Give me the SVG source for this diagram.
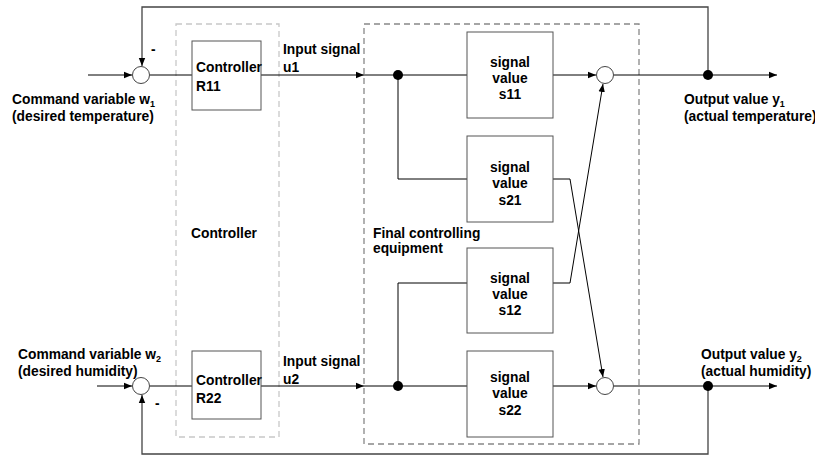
<svg xmlns="http://www.w3.org/2000/svg" width="815" height="455" viewBox="0 0 815 455">
<style>
text{font-family:"Liberation Sans",Arial,sans-serif;font-weight:bold;font-size:13.8px;fill:#000}
.c{text-anchor:middle}
.box{fill:#fff;stroke:#555;stroke-width:1}
.ln{fill:none;stroke:#000;stroke-width:1}
.fb{fill:none;stroke:#444;stroke-width:1.3}
.sum{fill:#fff;stroke:#444;stroke-width:1}
.dot{fill:#000}
.sub{font-size:9px}
</style>
<defs>
<marker id="ar" viewBox="0 0 10 10" refX="10" refY="5" markerWidth="8" markerHeight="8" markerUnits="userSpaceOnUse" orient="auto"><path d="M0,1 L10,5 L0,9 z" fill="#000"/></marker>
</defs>
<g id="group-controller"><rect x="176" y="24" width="103" height="413" fill="none" stroke="#c8c8c8" stroke-width="1.3" stroke-dasharray="6,4"/><text x="191" y="238">Controller</text></g>
<g id="group-final"><rect x="364" y="24" width="275" height="420" fill="none" stroke="#888" stroke-width="1.3" stroke-dasharray="6,4"/><text x="373" y="238">Final controlling</text><text x="373" y="253">equipment</text></g>
<g id="connectors">
<path class="fb" d="M708,75 V7 H142 V66" marker-end="url(#ar)"/>
<path class="fb" d="M708,386 V454 H142 V395" marker-end="url(#ar)"/>
<path class="ln" d="M88,75 H132" marker-end="url(#ar)"/>
<path class="ln" d="M97,386 H132" marker-end="url(#ar)"/>
<path class="ln" d="M150,75 H192"/>
<path class="ln" d="M150,386 H192"/>
<path class="ln" d="M261,75 H364" marker-end="url(#ar)"/>
<path class="ln" d="M261,386 H364" marker-end="url(#ar)"/>
<path class="ln" d="M364,75 H467"/>
<path class="ln" d="M364,386 H467"/>
<path class="ln" d="M398,75 V179 H467"/>
<path class="ln" d="M398,386 V283 H467"/>
<path class="ln" d="M553,75 H596" marker-end="url(#ar)"/>
<path class="ln" d="M553,386 H596" marker-end="url(#ar)"/>
<path class="ln" d="M553,179 H570 L603,377" marker-end="url(#ar)"/>
<path class="ln" d="M553,283 H570 L603,84" marker-end="url(#ar)"/>
<path class="ln" d="M614,75 H777" marker-end="url(#ar)"/>
<path class="ln" d="M614,386 H777" marker-end="url(#ar)"/>
<circle class="dot" cx="398" cy="75" r="5"/>
<circle class="dot" cx="398" cy="386" r="5"/>
<circle class="dot" cx="708" cy="75" r="5"/>
<circle class="dot" cx="708" cy="386" r="5"/>
</g>
<g id="sum1"><circle class="sum" cx="141" cy="75" r="8.5"/><text x="151" y="54">-</text></g>
<g id="sum2"><circle class="sum" cx="141" cy="386" r="8.5"/><text x="155" y="408">-</text></g>
<g id="sum3"><circle class="sum" cx="605" cy="75" r="8.5"/></g>
<g id="sum4"><circle class="sum" cx="605" cy="386" r="8.5"/></g>
<g id="w1"><text x="12" y="104">Command variable w<tspan class="sub" dy="3">1</tspan></text><text x="12" y="121">(desired temperature)</text></g>
<g id="w2"><text x="18" y="359">Command variable w<tspan class="sub" dy="3">2</tspan></text><text x="18" y="376">(desired humidity)</text></g>
<g id="R11"><rect class="box" x="192" y="41" width="69" height="69"/><text x="196" y="72">Controller</text><text x="196" y="91">R11</text></g>
<g id="R22"><rect class="box" x="192" y="351" width="69" height="68"/><text x="196" y="385">Controller</text><text x="196" y="403">R22</text></g>
<g id="u1"><text x="283" y="54">Input signal</text><text x="283" y="72">u1</text></g>
<g id="u2"><text x="283" y="366">Input signal</text><text x="283" y="384">u2</text></g>
<g id="s11"><rect class="box" x="467" y="32" width="86" height="86"/><text class="c" x="510" y="67">signal</text><text class="c" x="510" y="83">value</text><text class="c" x="510" y="99">s11</text></g>
<g id="s21"><rect class="box" x="467" y="136" width="86" height="86"/><text class="c" x="510" y="172">signal</text><text class="c" x="510" y="188">value</text><text class="c" x="510" y="205">s21</text></g>
<g id="s12"><rect class="box" x="467" y="248" width="86" height="85"/><text class="c" x="510" y="283">signal</text><text class="c" x="510" y="299">value</text><text class="c" x="510" y="315">s12</text></g>
<g id="s22"><rect class="box" x="467" y="351" width="86" height="86"/><text class="c" x="510" y="382">signal</text><text class="c" x="510" y="398">value</text><text class="c" x="510" y="415">s22</text></g>
<g id="y1"><text x="684" y="104">Output value y<tspan class="sub" dy="3">1</tspan></text><text x="684" y="121">(actual temperature)</text></g>
<g id="y2"><text x="701" y="359">Output value y<tspan class="sub" dy="3">2</tspan></text><text x="701" y="376">(actual humidity)</text></g>
</svg>
